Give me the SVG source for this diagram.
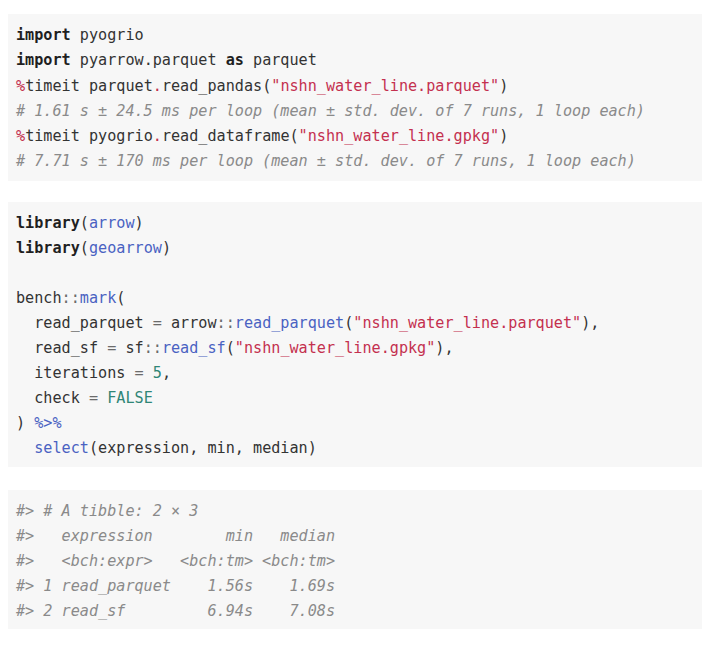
<svg xmlns="http://www.w3.org/2000/svg" width="702" height="646" viewBox="0 0 702 646">
<style>
.box{fill:#f7f7f7}
text{font-family:"DejaVu Sans Mono","Liberation Mono",monospace;font-size:15.15px;fill:#333333;white-space:pre}
.k{font-weight:bold;fill:#1f1f1f}
.r{fill:#c4304f}
.b{fill:#4a62c2}
.t{fill:#2f8676}
.g{fill:#6b6b6b}
.c{fill:#8a8a8a;font-style:italic}
</style>
<rect width="702" height="646" fill="#ffffff"/>
<g id="python-block">
<rect class="box" x="8" y="14" width="694" height="167"/>
<text xml:space="preserve" x="16" y="40"><tspan class="k">import</tspan> pyogrio</text>
<text xml:space="preserve" x="16" y="65"><tspan class="k">import</tspan> pyarrow.parquet <tspan class="k">as</tspan> parquet</text>
<text xml:space="preserve" x="16" y="91"><tspan class="r">%</tspan>timeit parquet<tspan class="r">.</tspan>read_pandas(<tspan class="r">"nshn_water_line.parquet"</tspan>)</text>
<text xml:space="preserve" x="16" y="116" class="c"># 1.61 s ± 24.5 ms per loop (mean ± std. dev. of 7 runs, 1 loop each)</text>
<text xml:space="preserve" x="16" y="141"><tspan class="r">%</tspan>timeit pyogrio<tspan class="r">.</tspan>read_dataframe(<tspan class="r">"nshn_water_line.gpkg"</tspan>)</text>
<text xml:space="preserve" x="16" y="166" class="c"># 7.71 s ± 170 ms per loop (mean ± std. dev. of 7 runs, 1 loop each)</text>
</g>
<g id="r-block">
<rect class="box" x="8" y="202" width="694" height="265"/>
<text xml:space="preserve" x="16" y="228"><tspan class="k">library</tspan>(<tspan class="b">arrow</tspan>)</text>
<text xml:space="preserve" x="16" y="253"><tspan class="k">library</tspan>(<tspan class="b">geoarrow</tspan>)</text>
<text xml:space="preserve" x="16" y="303">bench<tspan class="g">::</tspan><tspan class="b">mark</tspan>(</text>
<text xml:space="preserve" x="16" y="328">  read_parquet <tspan class="g">=</tspan> arrow<tspan class="g">::</tspan><tspan class="b">read_parquet</tspan>(<tspan class="r">"nshn_water_line.parquet"</tspan>),</text>
<text xml:space="preserve" x="16" y="353">  read_sf <tspan class="g">=</tspan> sf<tspan class="g">::</tspan><tspan class="b">read_sf</tspan>(<tspan class="r">"nshn_water_line.gpkg"</tspan>),</text>
<text xml:space="preserve" x="16" y="378">  iterations <tspan class="g">=</tspan> <tspan class="t">5</tspan>,</text>
<text xml:space="preserve" x="16" y="403">  check <tspan class="g">=</tspan> <tspan class="t">FALSE</tspan></text>
<text xml:space="preserve" x="16" y="428">) <tspan class="b">%&gt;%</tspan></text>
<text xml:space="preserve" x="16" y="453">  <tspan class="b">select</tspan>(expression, min, median)</text>
</g>
<g id="output-block">
<rect class="box" x="8" y="490" width="694" height="139"/>
<text xml:space="preserve" x="16" y="516" class="c">#&gt; # A tibble: 2 × 3</text>
<text xml:space="preserve" x="16" y="541" class="c">#&gt;   expression        min   median</text>
<text xml:space="preserve" x="16" y="566" class="c">#&gt;   &lt;bch:expr&gt;   &lt;bch:tm&gt; &lt;bch:tm&gt;</text>
<text xml:space="preserve" x="16" y="591" class="c">#&gt; 1 read_parquet    1.56s    1.69s</text>
<text xml:space="preserve" x="16" y="616" class="c">#&gt; 2 read_sf         6.94s    7.08s</text>
</g>
</svg>
